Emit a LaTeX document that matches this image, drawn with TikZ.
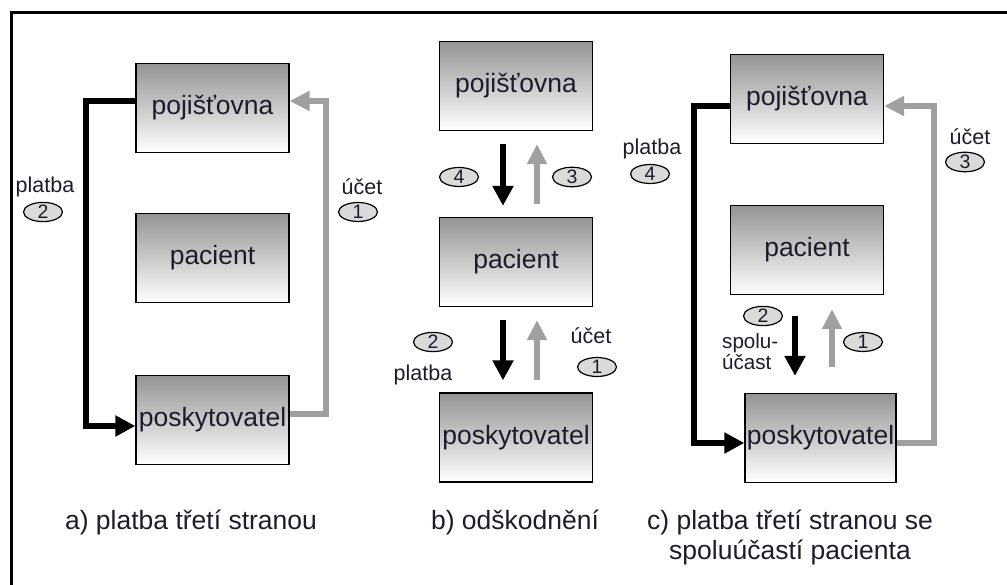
\documentclass[tikz,border=0pt]{standalone}
\usepackage{fontspec}
\setmainfont{Liberation Sans}
\usetikzlibrary{arrows.meta,shapes.geometric}
\definecolor{txt}{RGB}{28,28,45}
\definecolor{arrgray}{RGB}{160,160,160}
\definecolor{numfill}{RGB}{218,218,218}
\tikzset{
 box/.style={draw=black, line width=1.3pt, top color=black!42, bottom color=white, minimum width=153pt, minimum height=89pt, inner sep=0pt, font=\fontsize{26.5}{30}\selectfont, text=txt},
 blk/.style={line width=6pt, black, -{Triangle[length=20pt,width=20pt]}},
 gry/.style={line width=6pt, arrgray, -{Triangle[length=20pt,width=19pt]}},
 num/.style={ellipse, draw=black, line width=1.2pt, fill=numfill, minimum width=39pt, minimum height=17pt, inner sep=0pt, font=\fontsize{19.5}{19}\selectfont, text=txt},
 lbl/.style={font=\fontsize{21.5}{21}\selectfont, text=txt, inner sep=0pt},
 captxt/.style={font=\fontsize{26.5}{30}\selectfont, text=txt, align=center, inner sep=0pt},
}
\begin{document}
\begin{tikzpicture}[x=1pt,y=-1pt]
\useasboundingbox (0,0) rectangle (1007,585);
\draw[line width=3pt] (11,585) -- (11,13) -- (1007,13);

% panel a
\node[box] (pojA) at (212.5,108) {pojišťovna};
\node[box] (pacA) at (212.5,258) {pacient};
\node[box] (poskA) at (212.5,420) {poskytovatel};
\draw[blk] ([yshift=7pt]pojA.west) -- ++(-49,0) |- ([yshift=-6pt]poskA.west);
\draw[gry] ([yshift=6pt]poskA.east) -- ++(36,0) |- ([yshift=7pt]pojA.east);
\node[lbl] (plA) at (45,187) {platba};
\node[num] (n2A) at (43,212) {2};
\node[lbl] (ucA) at (362,187) {účet};
\node[num] (n1A) at (358,212) {1};
\node[captxt] (capA) at (191,522) {a) platba třetí stranou};

% panel b
\node[box] (pojB) at (516,86) {pojišťovna};
\node[box] (pacB) at (516,262) {pacient};
\node[box] (poskB) at (516,437.5) {poskytovatel};
\draw[blk, shorten <=13pt, shorten >=11pt] ([xshift=-13pt]pojB.south) -- ([xshift=-13pt]pojB.south |- pacB.north);
\draw[gry, shorten <=13pt, shorten >=13pt] ([xshift=21pt]pacB.north) -- ([xshift=21pt]pacB.north |- pojB.south);
\draw[blk, shorten <=13pt, shorten >=12pt] ([xshift=-13pt]pacB.south) -- ([xshift=-13pt]pacB.south |- poskB.north);
\draw[gry, shorten <=12pt, shorten >=13pt] ([xshift=21pt]poskB.north) -- ([xshift=21pt]poskB.north |- pacB.south);
\node[num] (n4B) at (459,177) {4};
\node[num] (n3B) at (572,177) {3};
\node[num] (n2B) at (433,342) {2};
\node[lbl] (plB) at (423,375) {platba};
\node[lbl] (ucB) at (591,336) {účet};
\node[num] (n1B) at (597,367) {1};
\node[captxt] (capB) at (515,522) {b) odškodnění};

% panel c
\node[box] (pojC) at (807,99) {pojišťovna};
\node[box] (pacC) at (807,250) {pacient};
\node[box, minimum width=151pt] (poskC) at (820.5,438) {poskytovatel};
\draw[blk] ([yshift=-7pt]pojC.west) -- ++(-36,0) |- ([yshift=-5pt]poskC.west);
\draw[gry] ([yshift=-5pt]poskC.east) -- ++(37,0) |- ([yshift=-7pt]pojC.east);
\draw[blk, shorten <=21pt, shorten >=17pt] ([xshift=-12pt]pacC.south) -- ([xshift=-12pt]pacC.south |- poskC.north);
\draw[gry, shorten <=26pt, shorten >=14pt] ([xshift=25pt]pacC.south |- poskC.north) -- ([xshift=25pt]pacC.south);
\node[lbl] (plC) at (652,149) {platba};
\node[num] (n4C) at (650,174) {4};
\node[lbl] (ucC) at (970,137) {účet};
\node[num] (n3C) at (965,162) {3};
\node[num] (n2C) at (763,316) {2};
\node[lbl, align=left, anchor=west, font=\fontsize{20.6}{21}\selectfont] (spC) at (722,351.5) {spolu-\\účast};
\node[num] (n1C) at (863,342) {1};
\node[captxt] (capC) at (790,537) {c) platba třetí stranou se\\spoluúčastí pacienta};
\end{tikzpicture}
\end{document}
